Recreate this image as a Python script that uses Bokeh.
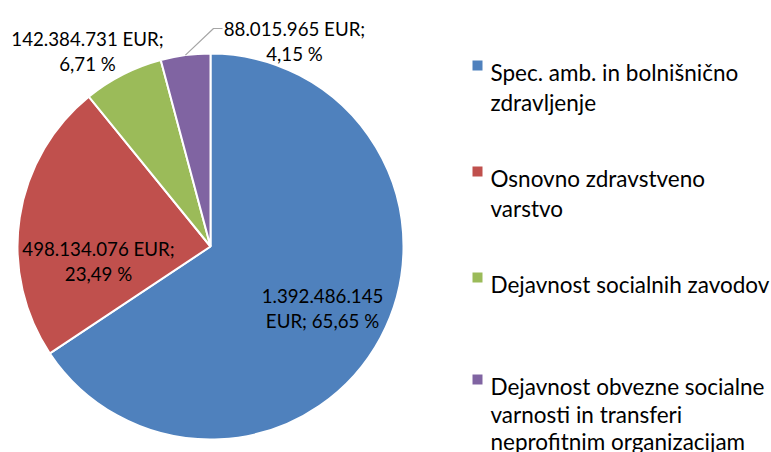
import math
from bokeh.plotting import figure
from bokeh.models import Range1d
from bokeh.core.properties import value
from bokeh.embed import file_html
from bokeh.resources import INLINE

# ---- data ----
categories = [
    "Spec. amb. in bolnišnično zdravljenje",
    "Osnovno zdravstveno varstvo",
    "Dejavnost socialnih zavodov",
    "Dejavnost obvezne socialne varnosti in transferi neprofitnim organizacijam",
]
amounts_eur = [1392486145, 498134076, 142384731, 88015965]
percents = [65.65, 23.49, 6.71, 4.15]
colors = ["#4F81BD", "#C0504D", "#9BBB59", "#8064A2"]

# legend lines (wrapped as in the original)
legend_lines = [
    ["Spec. amb. in bolnišnično", "zdravljenje"],
    ["Osnovno zdravstveno", "varstvo"],
    ["Dejavnost socialnih zavodov"],
    ["Dejavnost obvezne socialne", "varnosti in transferi", "neprofitnim organizacijam"],
]

W, H = 771, 452
FONT = "Lato"

def fy(py):
    # convert top-down pixel position to data y
    return H - py

p = figure(width=W, height=H, output_backend="svg", toolbar_location=None,
           x_range=Range1d(0, W), y_range=Range1d(0, H), min_border=0)
p.axis.visible = False
p.grid.visible = False
p.outline_line_color = None
p.background_fill_color = "white"
p.border_fill_color = "white"

# ---- pie ----
cx, cy, r = 210, fy(246), 193
total = sum(amounts_eur)
starts, ends, mids = [], [], []
acc = 0.0
for v in amounts_eur:
    a0 = math.pi / 2 - 2 * math.pi * acc / total
    acc += v
    a1 = math.pi / 2 - 2 * math.pi * acc / total
    starts.append(a0)
    ends.append(a1)
    mids.append((a0 + a1) / 2)

p.wedge(x=[cx] * 4, y=[cy] * 4, radius=r, start_angle=starts, end_angle=ends,
        direction="clock", fill_color=colors, line_color="white", line_width=2)

# ---- data labels ----
def fmt_amount(v):
    return f"{v:,}".replace(",", ".")

def fmt_pct(pc):
    return f"{pc:.2f}".replace(".", ",") + " %"

label_lines = [
    [fmt_amount(amounts_eur[0]), "EUR; " + fmt_pct(percents[0])],
    [fmt_amount(amounts_eur[1]) + " EUR;", fmt_pct(percents[1])],
    [fmt_amount(amounts_eur[2]) + " EUR;", fmt_pct(percents[2])],
    [fmt_amount(amounts_eur[3]) + " EUR;", fmt_pct(percents[3])],
]
# (center x, first baseline) in top-down pixels
label_pos = [(322, 295), (98, 248), (87, 38), (294, 28)]
lx, ly, lt = [], [], []
for (x0, b0), lines in zip(label_pos, label_lines):
    for i, t in enumerate(lines):
        lx.append(x0)
        ly.append(fy(b0 + 25 * i))
        lt.append(t)
p.text(x=lx, y=ly, text=lt, text_font=value(FONT), text_font_size=value("18.7px"),
       text_align="center", text_baseline="alphabetic", text_color="#000000")

# leader line for the small slice
sx = cx + r * math.cos(mids[3])
sy = cy + r * math.sin(mids[3])
p.line(x=[sx, 213, 222], y=[sy, fy(28), fy(28)], line_color="#A6A6A6", line_width=1.2)

# ---- legend ----
legend_first_baseline = [72, 178, 284, 386]
legend_spacing = [29.5, 29.5, 29.5, 27.5]
mx, my = [], []
tx, ty, tt = [], [], []
for b0, sp, lines in zip(legend_first_baseline, legend_spacing, legend_lines):
    mx.append(477)
    my.append(fy(b0 - 7))
    for i, t in enumerate(lines):
        tx.append(490)
        ty.append(fy(b0 + sp * i))
        tt.append(t)
p.rect(x=mx, y=my, width=10, height=10, fill_color=colors, line_color=None)
p.text(x=tx, y=ty, text=tt, text_font=value(FONT), text_font_size=value("22.5px"),
       text_align="left", text_baseline="alphabetic", text_color="#000000")

open("out.html", "w").write(file_html(p, INLINE))
